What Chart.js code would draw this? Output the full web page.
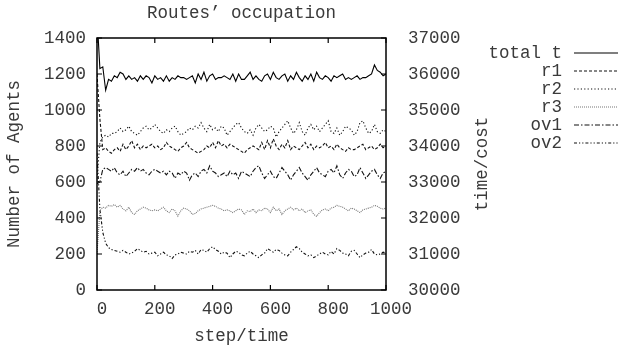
<!DOCTYPE html>
<html>
<head>
<meta charset="utf-8">
<script src="https://cdn.jsdelivr.net/npm/chart.js@4"></script>
<style>
  html, body { margin: 0; padding: 0; background: #fff; }
  #wrap { width: 618px; height: 348px; }
</style>
</head>
<body>
<div id="wrap"><canvas id="chart"></canvas></div>
<script>
const steps = [
  0, 10, 20, 30, 40, 50, 60, 70, 80, 90,
  100, 110, 120, 130, 140, 150, 160, 170, 180, 190,
  200, 210, 220, 230, 240, 250, 260, 270, 280, 290,
  300, 310, 320, 330, 340, 350, 360, 370, 380, 390,
  400, 410, 420, 430, 440, 450, 460, 470, 480, 490,
  500, 510, 520, 530, 540, 550, 560, 570, 580, 590,
  600, 610, 620, 630, 640, 650, 660, 670, 680, 690,
  700, 710, 720, 730, 740, 750, 760, 770, 780, 790,
  800, 810, 820, 830, 840, 850, 860, 870, 880, 890,
  900, 910, 920, 930, 940, 950, 960, 970, 980, 990,
  1000
];

// total time, plotted against the right (time/cost) axis
const totalT = [
  37600, 36150, 36200, 35550, 35850, 35800, 35950, 35900, 36050, 36000,
  35850, 35950, 35850, 35900, 35800, 35950, 35850, 35950, 35900, 35750,
  35950, 35850, 35900, 35800, 35950, 35800, 35900, 35850, 35950, 35900,
  35900, 35850, 35900, 35950, 35750, 36000, 35850, 36050, 35800, 35950,
  36000, 35850, 35900, 35900, 35950, 35900, 35850, 36000, 35800, 36000,
  35850, 35850, 35950, 36050, 35850, 35950, 35850, 35800, 35950, 36000,
  35850, 36050, 35900, 35850, 35950, 36000, 35800, 35950, 35850, 36050,
  35900, 35800, 35950, 35850, 36000, 35800, 36050, 35900, 35850, 35950,
  35900, 35800, 35950, 35900, 35950, 36000, 35850, 35900, 35850, 35900,
  35950, 35850, 35900, 35900, 35950, 36000, 36250, 36100, 36050, 35950,
  36000
];

const r1 = [
  1200, 950, 780, 790, 770, 760, 780, 790, 770, 810,
  780, 800, 830, 790, 810, 780, 800, 790, 800, 810,
  790, 800, 780, 790, 820, 800, 790, 780, 770, 790,
  800, 820, 790, 780, 770, 760, 770, 780, 800, 790,
  820, 790, 830, 800, 810, 790, 810, 800, 790, 780,
  770, 760, 780, 790, 800, 790, 780, 820, 780, 830,
  790, 840, 800, 780, 810, 790, 830, 780, 800, 790,
  780, 800, 820, 790, 810, 780, 800, 790, 800, 820,
  790, 800, 780, 810, 790, 780, 770, 790, 780, 780,
  790, 800, 810, 780, 790, 800, 780, 790, 810, 790,
  800
];

const r2 = [
  620, 820, 850, 860, 850, 870, 870, 880, 900, 880,
  890, 910, 880, 870, 860, 880, 900, 910, 890, 900,
  920, 900, 880, 870, 890, 880, 900, 910, 880, 860,
  870, 880, 900, 890, 910, 900, 930, 900, 880, 920,
  890, 900, 880, 910, 900, 860, 880, 900, 920, 930,
  900, 880, 870, 890, 860, 900, 920, 900, 880, 890,
  910, 900, 850, 880, 900, 920, 940, 900, 870, 890,
  930, 880, 860, 900, 920, 890, 910, 880, 900, 920,
  940, 880, 870, 900, 860, 880, 910, 900, 890, 860,
  880, 930, 940, 900, 870, 880, 920, 880, 870, 890,
  880
];

const r3 = [
  200, 440, 460, 455, 470, 465, 475, 460, 470, 450,
  440, 460, 430, 420, 440, 450, 460, 455, 445, 440,
  445, 440, 450, 460, 440, 430, 450, 440, 410, 440,
  455, 450, 440, 420, 425, 440, 450, 455, 460, 465,
  470, 465, 455, 450, 440, 445, 440, 430, 440, 450,
  445, 420, 440, 435, 450, 430, 445, 440, 455, 450,
  430, 460, 440, 450, 420, 440, 450, 460, 445, 455,
  440, 450, 430, 440, 445, 420, 410, 430, 445, 450,
  440, 455, 460, 470, 465, 460, 450, 440, 455, 450,
  440, 430, 445, 450, 455, 460, 470, 465, 455, 450,
  455
];

const ov1 = [
  590, 600, 670, 680, 670, 660, 680, 650, 640, 660,
  630, 650, 670, 660, 680, 660, 670, 650, 640, 660,
  670, 660, 650, 660, 640, 660, 650, 620, 650, 640,
  660, 650, 610, 640, 650, 630, 660, 670, 650, 690,
  660, 650, 630, 640, 650, 630, 660, 640, 650, 620,
  660, 650, 640, 630, 660, 680, 690, 650, 620, 640,
  660, 630, 620, 650, 680, 660, 640, 610, 640, 660,
  680, 650, 630, 610, 640, 660, 680, 650, 640, 630,
  660, 670, 650, 690, 640, 620, 650, 670, 660, 630,
  640, 680, 650, 620, 640, 660, 670, 640, 620, 650,
  660
];

const ov2 = [
  760, 450, 320, 260, 235, 225, 220, 215, 210, 220,
  210, 200, 205, 215, 230, 220, 210, 215, 200, 205,
  210, 190, 200, 210, 195, 190, 175, 195, 200, 210,
  205, 200, 215, 210, 220, 200, 225, 220, 210, 230,
  240, 225, 215, 200, 210, 205, 180, 200, 215, 210,
  195, 190, 205, 215, 200, 190, 180, 195, 205, 230,
  220, 210, 225, 220, 205, 195, 190, 210, 225, 240,
  230, 210, 200, 190, 195, 180, 190, 200, 210, 200,
  195, 215, 200, 230, 220, 205, 200, 190, 215, 220,
  200, 180, 195, 205, 210, 225, 200, 195, 200, 210,
  205
];

const xTicks = [0, 200, 400, 600, 800, 1000];
const yTicks = [0, 200, 400, 600, 800, 1000, 1200, 1400];
const y2Ticks = [30000, 31000, 32000, 33000, 34000, 35000, 36000, 37000];

const FONT = "'Liberation Mono', 'DejaVu Sans Mono', monospace";
const TXT = "#3a3a3a";
const plain = (v) => String(v);

function pts(arr) {
    return arr.map((v, i) => ({ x: steps[i], y: v }));
}

function series(label, arr, color, dash, axis) {
    return {
        label,
        data: pts(arr),
        borderColor: color,
        borderWidth: 1.1,
        borderDash: dash,
        pointRadius: 0,
        tension: 0,
        fill: false,
        yAxisID: axis
    };
}

// gnuplot-like frame, inward ticks, title, right axis title and key
const gnuFrame = {
    id: "gnuFrame",
    afterDatasetsDraw(chart) {
        const { ctx, chartArea: a, scales } = chart;
        ctx.save();
        ctx.strokeStyle = "#000";
        ctx.lineWidth = 1.5;
        ctx.setLineDash([]);
        ctx.strokeRect(a.left, a.top, a.right - a.left, a.bottom - a.top);
        ctx.lineWidth = 1.2;
        const tl = 5;
        ctx.beginPath();
        xTicks.forEach((t) => {
            const px = scales.x.getPixelForValue(t);
            ctx.moveTo(px, a.bottom); ctx.lineTo(px, a.bottom - tl);
            ctx.moveTo(px, a.top); ctx.lineTo(px, a.top + tl);
        });
        yTicks.forEach((t) => {
            const py = scales.y.getPixelForValue(t);
            ctx.moveTo(a.left, py); ctx.lineTo(a.left + tl, py);
        });
        y2Ticks.forEach((t) => {
            const py = scales.y2.getPixelForValue(t);
            ctx.moveTo(a.right, py); ctx.lineTo(a.right - tl, py);
        });
        ctx.stroke();
        ctx.restore();
    },
    afterDraw(chart) {
        const { ctx, chartArea: a } = chart;
        ctx.save();
        ctx.fillStyle = TXT;
        ctx.font = "17.5px " + FONT;
        ctx.textAlign = "center";
        ctx.textBaseline = "middle";
        ctx.fillText("Routes\u2019 occupation", (a.left + a.right) / 2, 13);

        ctx.save();
        ctx.translate(482, (a.top + a.bottom) / 2);
        ctx.rotate(-Math.PI / 2);
        ctx.fillText("time/cost", 0, 0);
        ctx.restore();

        // key
        ctx.textAlign = "right";
        chart.data.datasets.forEach((ds, i) => {
            const y = 53 + i * 18;
            ctx.fillStyle = TXT;
            ctx.fillText(ds.label, 562, y);
            ctx.beginPath();
            ctx.strokeStyle = ds.borderColor;
            ctx.lineWidth = ds.borderWidth;
            ctx.setLineDash(ds.borderDash || []);
            ctx.moveTo(574, y);
            ctx.lineTo(618, y);
            ctx.stroke();
        });
        ctx.restore();
    }
};

new Chart(document.getElementById("chart"), {
    type: "line",
    data: {
        datasets: [
            series("total t", totalT, "#000", [], "y2"),
            series("r1", r1, "#111", [3, 2], "y"),
            series("r2", r2, "#111", [1.2, 2.2], "y"),
            series("r3", r3, "#777", [1, 1], "y"),
            series("ov1", ov1, "#111", [5, 2, 1.5, 2], "y"),
            series("ov2", ov2, "#111", [3, 2, 1.2, 2, 1.2, 2], "y")
        ]
    },
    plugins: [gnuFrame],
    options: {
        responsive: true,
        maintainAspectRatio: false,
        animation: false,
        layout: { padding: { top: 38, left: 0, right: 0, bottom: 0 } },
        plugins: {
            legend: { display: false },
            title: { display: false },
            tooltip: { enabled: false }
        },
        scales: {
            x: {
                type: "linear",
                min: 0,
                max: 1000,
                afterFit: (s) => { s.height = 58; },
                afterBuildTicks: (s) => { s.ticks = xTicks.map((v) => ({ value: v })); },
                grid: { display: false, drawTicks: false },
                border: { display: false },
                ticks: { color: TXT, font: { family: FONT, size: 17.5 }, padding: 9, labelOffset: 5, maxRotation: 0, callback: plain },
                title: { display: true, text: "step/time", color: TXT, font: { family: FONT, size: 17.5 }, padding: { top: 0, bottom: 1 } }
            },
            y: {
                position: "left",
                min: 0,
                max: 1400,
                afterFit: (s) => { s.width = 97; },
                afterBuildTicks: (s) => { s.ticks = yTicks.map((v) => ({ value: v })); },
                grid: { display: false, drawTicks: false },
                border: { display: false },
                ticks: { color: TXT, font: { family: FONT, size: 17.5 }, padding: 11, callback: plain },
                title: { display: true, text: "Number of Agents", color: TXT, font: { family: FONT, size: 17.5 }, padding: { top: 4, bottom: 0 } }
            },
            y2: {
                position: "right",
                min: 30000,
                max: 37000,
                afterFit: (s) => { s.width = 232; },
                afterBuildTicks: (s) => { s.ticks = y2Ticks.map((v) => ({ value: v })); },
                grid: { display: false, drawTicks: false },
                border: { display: false },
                ticks: { color: TXT, font: { family: FONT, size: 17.5 }, padding: 22, callback: plain }
            }
        }
    }
});
</script>
</body>
</html>
